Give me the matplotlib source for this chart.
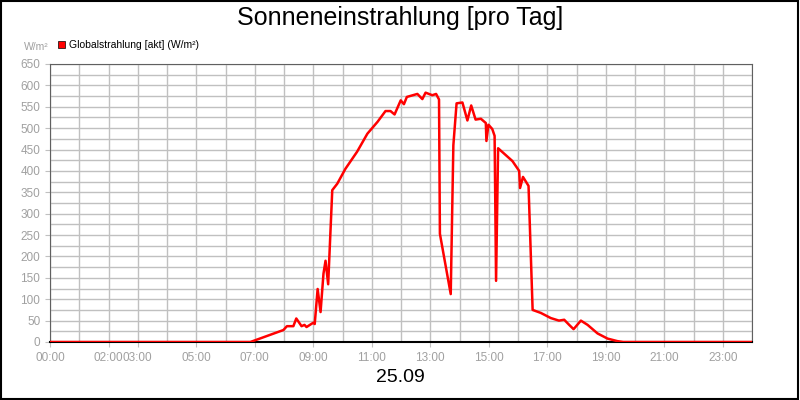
import matplotlib
matplotlib.use("Agg")
import matplotlib.pyplot as plt
from matplotlib.patches import Rectangle

plt.rcParams['font.family'] = ['Liberation Sans', 'DejaVu Sans']

hours = [0, 6.85, 7.98, 8.1, 8.32, 8.42, 8.6, 8.7, 8.77, 9.0, 9.05, 9.15, 9.25, 9.35, 9.42, 9.51,
         9.65, 9.82, 10.1, 10.5, 10.85, 11.2, 11.47, 11.64, 11.78, 11.99, 12.1, 12.2, 12.56, 12.73,
         12.84, 13.07, 13.2, 13.3, 13.33, 13.7, 13.79, 13.9, 14.1, 14.27, 14.4, 14.55, 14.73, 14.9,
         14.92, 14.99, 15.12, 15.2, 15.25, 15.32, 15.5, 15.81, 16.04, 16.07, 16.17, 16.36, 16.5,
         16.78, 17.12, 17.4, 17.58, 17.75, 17.9, 18.15, 18.38, 18.72, 19.06, 19.4, 19.6, 24]
values = [0, 0, 28, 37, 37, 55, 37, 40, 35, 45, 42, 124, 70, 160, 190, 135,
          355, 370, 405, 445, 487, 515, 540, 540, 532, 565, 556, 573, 580, 568,
          583, 577, 580, 567, 253, 112, 460, 558, 560, 518, 553, 520, 522, 512,
          470, 508, 498, 482, 143, 453, 442, 423, 400, 360, 386, 365, 75,
          68, 56, 50, 52, 40, 30, 50, 40, 20, 8, 2, 0, 0]
tick_hours = [0, 2, 3, 5, 7, 9, 11, 13, 15, 17, 19, 21, 23]
tick_labels = ["00:00", "02:00", "03:00", "05:00", "07:00", "09:00", "11:00", "13:00",
               "15:00", "17:00", "19:00", "21:00", "23:00"]

fig = plt.figure(figsize=(8, 4), dpi=100)
ax = fig.add_axes([50/800, 1-342/400, 702/800, 278/400])
ax.plot(hours, values, color="#ff0000", lw=1.8, zorder=3)
ax.set_xlim(0, 24)
ax.set_ylim(0, 650)
ax.set_yticks(range(0, 651, 50))
ax.set_yticks(range(0, 651, 25), minor=True)
ax.set_xticks(range(0, 25), minor=True)
ax.set_xticks(tick_hours)
ax.set_xticklabels(tick_labels)
ax.grid(True, which="both", color="#c0c0c0", lw=1)
ax.tick_params(which="both", colors="#c0c0c0", labelcolor="#a0a0a0", labelsize=8.5)
ax.tick_params(which="minor", length=0)
for s in ["top", "left", "right"]:
    ax.spines[s].set_color("#606060")
ax.spines["bottom"].set_color("black")
ax.spines["bottom"].set_linewidth(1.5)

fig.text(0.5, 0.955, "Sonneneinstrahlung [pro Tag]", ha="center", va="center", fontsize=18)
fig.text(0.5, 0.055, "25.09", ha="center", va="center", fontsize=14)
fig.text(24/800, 1-47/400, "W/m²", fontsize=7.5, color="#a0a0a0", va="center")
fig.patches.append(Rectangle((58/800, 1-48/400), 7/800, 7/400, transform=fig.transFigure,
                             facecolor="#ff0000", edgecolor="black", lw=0.5))
fig.text(69/800, 1-44.5/400, "Globalstrahlung [akt] (W/m²)", fontsize=7.5, va="center")
fig.patches.append(Rectangle((0.001, 0.002), 0.997, 0.996, transform=fig.transFigure,
                             fill=False, edgecolor="black", lw=1.5))
fig.savefig("out.png")
